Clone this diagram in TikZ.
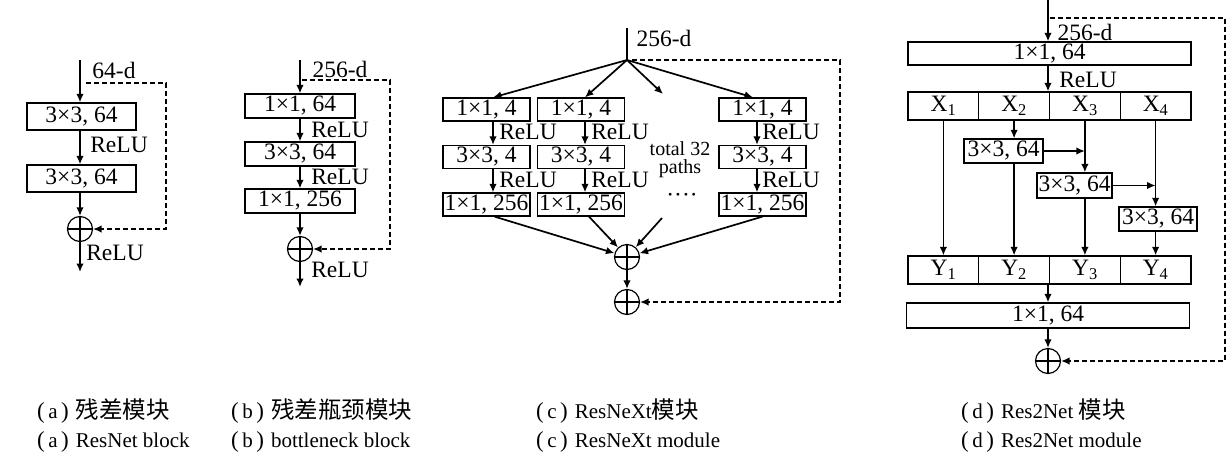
\documentclass[tikz,border=0pt]{standalone}
\usepackage{fontspec}
\setmainfont{Liberation Serif}
\newfontfamily\cjk{Noto Sans CJK SC}
\usetikzlibrary{arrows.meta,calc}
\newcommand{\bfs}{\fontsize{23.5}{18}\selectfont}
\newcommand{\sfs}{\fontsize{20}{18}\selectfont}
\newcommand{\cfs}{\fontsize{21}{22}\selectfont}
\newcommand{\cj}[1]{{\cjk\fontsize{23.5}{22}\selectfont #1}}
\newcommand{\pp}[1]{{\fontsize{23}{22}\selectfont #1}}
\newcommand{\lab}[1]{\pp{(}\,#1\,\pp{)}\,\,}
\begin{document}
\begin{tikzpicture}[x=1pt,y=-1pt,
  box/.style={draw,line width=1.2pt,inner sep=0pt,font=\bfs},
  lbl/.style={inner sep=0pt,font=\bfs},
  arr/.style={line width=1.7pt,-{Latex[length=8.5pt,width=7.5pt]}},
  skip/.style={line width=1.4pt,dash pattern=on 5pt off 3pt,-{Latex[length=8.5pt,width=7.5pt]}},
  plus/.style={circle,draw,line width=1.2pt,minimum size=25pt,inner sep=0pt,
    path picture={\draw[line width=1.2pt] (path picture bounding box.north)--(path picture bounding box.south)
      (path picture bounding box.west)--(path picture bounding box.east);}},
  captxt/.style={anchor=west,inner sep=0pt,font=\cfs}]
\useasboundingbox (0,0) rectangle (1226,464);

% ---------------- (a) ----------------
\coordinate (ain) at (80,60);
\coordinate (aout) at (80,272);
\coordinate (ad) at (86,83);
\node[box,minimum width=109pt,minimum height=27pt] (a1) at (81.5,116.5) {3×3, 64};
\node[box,minimum width=109pt,minimum height=27pt] (a2) at (81.5,178.5) {3×3, 64};
\node[plus] (ap) at (80,229) {};
\node[lbl] (al0) at (114,70) {64-d};
\node[lbl] (al1) at (119,145) {ReLU};
\node[lbl] (al2) at (115,253) {ReLU};
\draw[arr] (ain) -- (ain |- a1.north);
\draw[arr] (ain |- a1.south) -- (ain |- a2.north);
\draw[arr] (ain |- a2.south) -- (ap);
\draw[arr] (ap) -- (aout);
\draw[skip] (ad) -- ++(80,0) |- (ap.east);

% ---------------- (b) ----------------
\coordinate (bin) at (300,60);
\coordinate (bout) at (300,287);
\coordinate (bd) at (302,80);
\node[box,minimum width=110pt,minimum height=24pt] (b1) at (300,106) {1×1, 64};
\node[box,minimum width=110pt,minimum height=24pt] (b2) at (300,154) {3×3, 64};
\node[box,minimum width=110pt,minimum height=24pt] (b3) at (300,201) {1×1, 256};
\node[plus] (bp) at (300,249) {};
\node[lbl] (bl0) at (340,69) {256-d};
\node[lbl] (bl1) at (340,130) {ReLU};
\node[lbl] (bl2) at (340,177) {ReLU};
\node[lbl] (bl3) at (340,270) {ReLU};
\draw[arr] (bin) -- (b1.north);
\draw[arr] (b1.south) -- (b2.north);
\draw[arr] (b2.south) -- (b3.north);
\draw[arr] (b3.south) -- (bp);
\draw[arr] (bp) -- (bout);
\draw[skip] (bd) -- ++(88,0) |- (bp.east);

% ---------------- (c) ----------------
\coordinate (cin) at (627,28);
\coordinate (cs) at (627,60);
\coordinate (cd) at (632,60);
\node[lbl] (cl0) at (664,38) {256-d};
\foreach \n/\x in {1/486.5,2/581,4/762.5}{
  \node[box,minimum width=87pt,minimum height=23pt] (c\n1) at (\x,109.5) {1×1, 4};
  \node[box,minimum width=87pt,minimum height=23pt] (c\n2) at (\x,157) {3×3, 4};
  \node[box,minimum width=87pt,minimum height=23pt] (c\n3) at (\x,204.5) {1×1, 256};
}
\coordinate (ca1) at (493,0);
\coordinate (ca2) at (585,0);
\coordinate (ca4) at (757,0);
\foreach \n in {1,2,4}{
  \draw[arr] (ca\n |- c\n1.south) -- (ca\n |- c\n2.north);
  \draw[arr] (ca\n |- c\n2.south) -- (ca\n |- c\n3.north);
}
\node[lbl] (cr11) at (528,132) {ReLU};
\node[lbl] (cr12) at (528,180) {ReLU};
\node[lbl] (cr21) at (620,132) {ReLU};
\node[lbl] (cr22) at (620,180) {ReLU};
\node[lbl] (cr41) at (791,132) {ReLU};
\node[lbl] (cr42) at (791,180) {ReLU};
\node[lbl,font=\sfs,align=center] (ctot) at (680,160) {total 32\\paths};
\node[lbl] (cdots) at (682,198) {····};
\coordinate (cm1) at (663,94);
\coordinate (cm2) at (662,218);
\node[plus] (cp1) at (627,257) {};
\node[plus] (cp2) at (627,302) {};
\draw[line width=1.7pt] (cin) -- (cs);
\draw[arr] (cs) -- (ca1 |- c11.north);
\draw[arr] (cs) -- (ca2 |- c21.north);
\draw[arr] (cs) -- (cm1);
\draw[arr] (cs) -- ($(ca4 |- c41.north)+(-4,0)$);
\draw[arr] ($(c13.south)+(8,0)$) -- (cp1);
\draw[arr] ($(c23.south)+(8,0)$) -- (cp1);
\draw[arr] (cm2) -- (cp1);
\draw[arr] (c43.south) -- (cp1);
\draw[arr] (cp1) -- (cp2);
\draw[skip] (cd) -- ++(208,0) |- (cp2.east);

% ---------------- (d) ----------------
\coordinate (din) at (1048,0);
\coordinate (dd) at (1050,18);
\node[box,minimum width=283pt,minimum height=23pt] (d0) at (1049.5,53.5) {1×1, 64};
\node[lbl] (dl0) at (1085,32) {256-d};
\node[lbl] (dl1) at (1088,80) {ReLU};
\foreach \i/\x in {1/943.4,2/1014.1,3/1084.9,4/1155.6}{
  \node[box,minimum width=70.75pt,minimum height=28pt] (x\i) at (\x,106) {X\textsubscript{\i}};
  \node[box,minimum width=70.75pt,minimum height=28pt] (y\i) at (\x,270) {Y\textsubscript{\i}};
}
\node[box,minimum width=79pt,minimum height=24pt] (dA) at (1003.5,151) {3×3, 64};
\node[box,minimum width=75pt,minimum height=25pt] (dB) at (1074.5,185.5) {3×3, 64};
\node[box,minimum width=78pt,minimum height=24pt] (dC) at (1158,219) {3×3, 64};
\node[box,minimum width=283pt,minimum height=25pt] (d5) at (1048,315.5) {1×1, 64};
\node[plus] (dp) at (1048,361) {};
\draw[arr] (din) -- (din |- d0.north);
\draw[arr] (din |- d0.south) -- (din |- x2.north east);
\draw[arr] (x1.south) -- (y1.north);
\draw[arr] (x2.south) -- (x2.south |- dA.north);
\draw[arr] (x2.south |- dA.south) -- (y2.north);
\draw[arr] (dA.east) -- (dA.east -| x3.south);
\draw[arr] (x3.south) -- (x3.south |- dB.north);
\draw[arr] (x3.south |- dB.south) -- (y3.north);
\draw[arr] (dB.east) -- (dB.east -| x4.south);
\draw[arr] (x4.south) -- (x4.south |- dC.north);
\draw[arr] (x4.south |- dC.south) -- (y4.north);
\draw[arr] (din |- y2.south east) -- (din |- d5.north);
\draw[arr] (d5.south) -- (dp);
\draw[skip] (dd) -- ++(175,0) |- (dp.east);

% ---------------- captions ----------------
\node[captxt] (ta1) at (37,411) {\lab{a}\cj{残差模块}};
\node[captxt] (ta2) at (37,442) {\lab{a}ResNet block};
\node[captxt] (tb1) at (231,411) {\lab{b}\cj{残差瓶颈模块}};
\node[captxt] (tb2) at (231,442) {\lab{b}bottleneck block};
\node[captxt] (tc1) at (536,411) {\lab{c}ResNeXt\cj{模块}};
\node[captxt] (tc2) at (536,442) {\lab{c}ResNeXt module};
\node[captxt] (td1) at (961,411) {\lab{d}Res2Net \cj{模块}};
\node[captxt] (td2) at (961,442) {\lab{d}Res2Net module};
\end{tikzpicture}
\end{document}
